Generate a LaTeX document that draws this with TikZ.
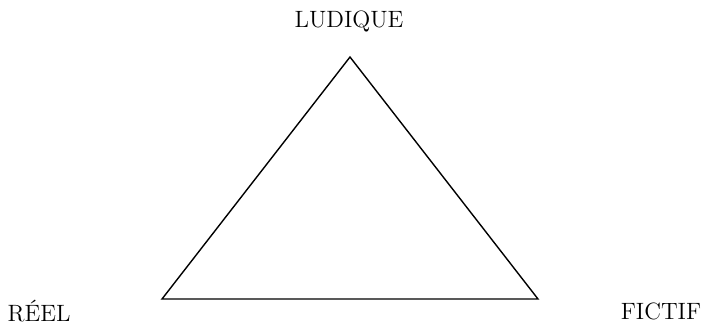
\documentclass[tikz,border=0pt]{standalone}
\begin{document}
\begin{tikzpicture}[x=0.5pt,y=-0.5pt,
  lab/.style={font=\fontsize{11.8}{14}\selectfont, inner sep=0pt},
  corner/.style={inner sep=0pt, minimum size=0pt}]
\useasboundingbox (0,0) rectangle (701,329);
\coordinate (top) at (350,57);
\coordinate (left) at (162,299);
\coordinate (right) at (538,299);
\draw[line width=0.7pt, line join=miter] (top) -- (left) -- (right) -- cycle;
\node[lab] (ludique) at (349,21) {LUDIQUE};
\node[lab] (reel) at (39,311) {RÉEL};
\node[lab] (fictif) at (661,311) {FICTIF};
\end{tikzpicture}
\end{document}
